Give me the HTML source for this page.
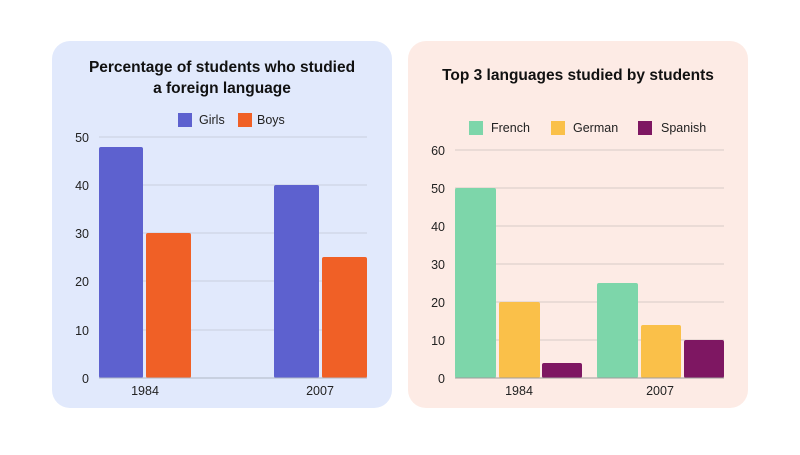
<!DOCTYPE html>
<html><head><style>
body{margin:0;background:#fff;width:800px;height:450px;overflow:hidden;font-family:"Liberation Sans",sans-serif}
</style></head><body>
<svg width="800" height="450" xmlns="http://www.w3.org/2000/svg" font-family="Liberation Sans, sans-serif">
<rect x="52" y="41" width="340" height="367" rx="18" fill="#e1e9fc"/>
<rect x="408" y="41" width="340" height="367" rx="18" fill="#fdebe5"/>
<!-- left -->
<g font-weight="bold" font-size="15.5" text-anchor="middle" fill="#111">
<text x="222" y="72">Percentage of students who studied</text>
<text x="222" y="93">a foreign language</text>
<text x="578" y="80">Top 3 languages studied by students</text>
</g>
<g stroke="#c9d0de" stroke-width="1">
<line x1="99" x2="367" y1="137" y2="137"/><line x1="99" x2="367" y1="185" y2="185"/>
<line x1="99" x2="367" y1="233" y2="233"/><line x1="99" x2="367" y1="281" y2="281"/>
<line x1="99" x2="367" y1="330" y2="330"/>
</g>
<g font-size="12.5" fill="#222" text-anchor="end">
<text x="89" y="142">50</text><text x="89" y="190">40</text><text x="89" y="238">30</text>
<text x="89" y="286">20</text><text x="89" y="335">10</text><text x="89" y="383">0</text>
</g>
<rect x="99" y="147" width="44" height="231" rx="2" fill="#5d61cf"/>
<rect x="146" y="233" width="45" height="145" rx="2" fill="#f06026"/>
<rect x="274" y="185" width="45" height="193" rx="2" fill="#5d61cf"/>
<rect x="322" y="257" width="45" height="121" rx="2" fill="#f06026"/>
<line x1="99" x2="367" y1="378" y2="378" stroke="#b0b6c4"/>
<g font-size="12.5" fill="#222" text-anchor="middle"><text x="145" y="395">1984</text><text x="320" y="395">2007</text></g>
<rect x="178" y="113" width="14" height="14" fill="#5d61cf"/><text x="199" y="124" font-size="12.5" fill="#222">Girls</text>
<rect x="238" y="113" width="14" height="14" fill="#f06026"/><text x="257" y="124" font-size="12.5" fill="#222">Boys</text>
<!-- right -->
<g stroke="#d8cbc6" stroke-width="1">
<line x1="455" x2="724" y1="150" y2="150"/><line x1="455" x2="724" y1="188" y2="188"/>
<line x1="455" x2="724" y1="226" y2="226"/><line x1="455" x2="724" y1="264" y2="264"/>
<line x1="455" x2="724" y1="302" y2="302"/><line x1="455" x2="724" y1="340" y2="340"/>
</g>
<g font-size="12.5" fill="#222" text-anchor="end">
<text x="445" y="155">60</text><text x="445" y="193">50</text><text x="445" y="231">40</text>
<text x="445" y="269">30</text><text x="445" y="307">20</text><text x="445" y="345">10</text><text x="445" y="383">0</text>
</g>
<rect x="455" y="188" width="41" height="190" rx="2" fill="#7dd6aa"/>
<rect x="499" y="302" width="41" height="76" rx="2" fill="#fac049"/>
<rect x="542" y="363" width="40" height="15" rx="2" fill="#7e1762"/>
<rect x="597" y="283" width="41" height="95" rx="2" fill="#7dd6aa"/>
<rect x="641" y="325" width="40" height="53" rx="2" fill="#fac049"/>
<rect x="684" y="340" width="40" height="38" rx="2" fill="#7e1762"/>
<line x1="455" x2="724" y1="378" y2="378" stroke="#a09c9c"/>
<g font-size="12.5" fill="#222" text-anchor="middle"><text x="519" y="395">1984</text><text x="660" y="395">2007</text></g>
<rect x="469" y="121" width="14" height="14" fill="#7dd6aa"/><text x="491" y="132" font-size="12.5" fill="#222">French</text>
<rect x="551" y="121" width="14" height="14" fill="#fac049"/><text x="573" y="132" font-size="12.5" fill="#222">German</text>
<rect x="638" y="121" width="14" height="14" fill="#7e1762"/><text x="661" y="132" font-size="12.5" fill="#222">Spanish</text>
</svg>
</body></html>
